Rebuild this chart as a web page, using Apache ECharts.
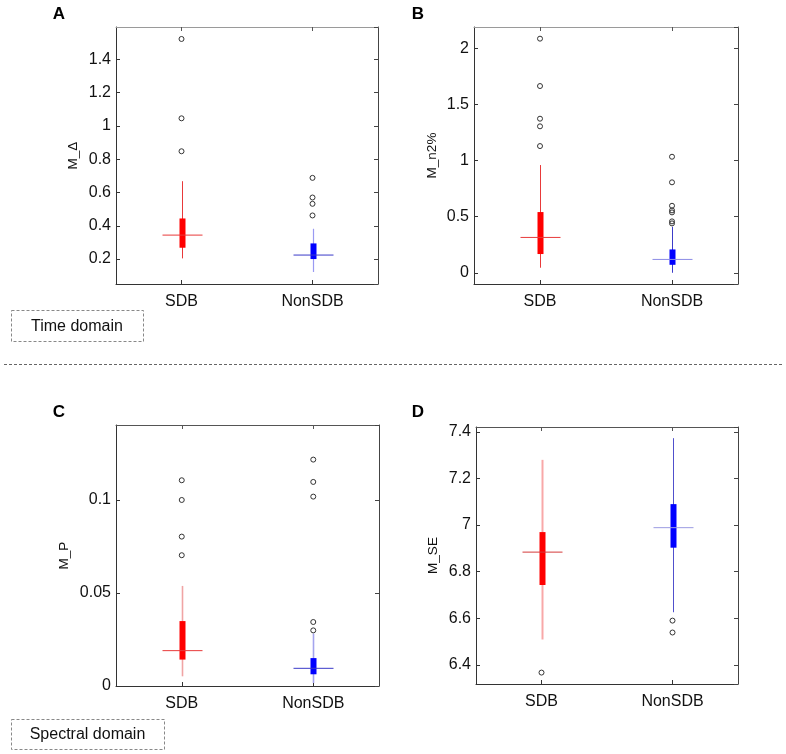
<!DOCTYPE html>
<html>
<head>
<meta charset="utf-8">
<script src="https://cdn.jsdelivr.net/npm/echarts@6/dist/echarts.min.js"></script>
<style>
html,body{margin:0;padding:0;background:#fff;}
#chart{width:786px;height:754px;}
</style>
</head>
<body>
<div id="chart"></div>
<script>
// ---------- data ----------
const categories = ['SDB', 'NonSDB'];

// box stats per group: [lowerWhisker, Q1, median, Q3, upperWhisker]
const boxA = [[0.204, 0.268, 0.344, 0.444, 0.668], [0.122, 0.200, 0.224, 0.294, 0.382]];
const outliersA = [[1.523, 1.046, 0.848], [0.688, 0.570, 0.532, 0.462]];

const boxB = [[0.045, 0.167, 0.315, 0.541, 0.960], [0.000, 0.071, 0.119, 0.208, 0.410]];
const outliersB = [[2.086, 1.664, 1.373, 1.305, 1.129], [1.034, 0.806, 0.597, 0.556, 0.538, 0.458, 0.440]];

const boxC = [[0.0052, 0.0142, 0.0190, 0.0349, 0.0538], [0.0016, 0.0063, 0.0095, 0.0150, 0.0282]];
const outliersC = [[0.1106, 0.1000, 0.0803, 0.0703], [0.1217, 0.1097, 0.1018, 0.0344, 0.0299]];

const boxD = [[6.509, 6.743, 6.884, 6.970, 7.280], [6.626, 6.903, 6.989, 7.090, 7.373]];
const outliersD = [[6.367], [6.590, 6.539]];

// axis ranges [min, max]
const rangeA = [0.05, 1.595];
const rangeB = [-0.1, 2.19];
const rangeC = [0, 0.1403];
const rangeD = [6.318, 7.421];

const yNames = ['M_\u0394', 'M_n2%', 'M_P', 'M_SE'];
const panelLetters = ['A', 'B', 'C', 'D'];
const domainLabels = ['Time domain', 'Spectral domain'];

// ---------- styles ----------
const FONT = '"Liberation Sans", Arial, Helvetica, sans-serif';
const panels = [
  { box: boxA, out: outliersA, range: rangeA, split: 7, grid: {left: 116, top: 27, width: 262, height: 257}, nameGap: 36, topColor: '#9a9a9a',
    whisker: ['#e8393a', '#9a9af2'], median: ['#e83a3a', '#3a3ac8'], ww: [1, 1.2] },
  { box: boxB, out: outliersB, range: rangeB, split: 5, grid: {left: 474, top: 27, width: 264, height: 257}, nameGap: 35, topColor: '#9a9a9a',
    whisker: ['#e83a3a', '#3c3cc8'], median: ['#e83a3a', '#8c8ce6'], ww: [1, 1] },
  { box: boxC, out: outliersC, range: rangeC, split: 3, grid: {left: 116, top: 425, width: 263, height: 261}, nameGap: 45, topColor: '#555',
    whisker: ['#f0a4a4', '#a4a4ee'], median: ['#e83a3a', '#3a3ac8'], ww: [1.6, 1.6] },
  { box: boxD, out: outliersD, range: rangeD, split: 5, grid: {left: 476, top: 427, width: 262, height: 257}, nameGap: 36, topColor: '#555',
    whisker: ['#f8a8a8', '#5050cc'], median: ['#d43a3a', '#9c9ce2'], ww: [2, 1] }
];
const boxFill = ['#ff0000', '#0000ff'];

const chart = echarts.init(document.getElementById('chart'), null, {renderer: 'canvas'});

const grids = [], xAxes = [], yAxes = [], series = [];
panels.forEach((p, i) => {
  grids.push(Object.assign({containLabel: false}, p.grid));
  // bottom category axis
  xAxes.push({
    type: 'category', gridIndex: i, data: categories, position: 'bottom',
    axisLine: {show: true, onZero: false, lineStyle: {color: '#333', width: 1}},
    axisTick: {show: true, inside: true, alignWithLabel: true, length: 4, lineStyle: {color: '#333'}},
    axisLabel: {show: true, color: '#111', fontSize: 16, fontFamily: FONT, margin: 10},
    splitLine: {show: false}
  });
  // top mirror axis
  xAxes.push({
    type: 'category', gridIndex: i, data: categories, position: 'top',
    axisLine: {show: true, onZero: false, lineStyle: {color: p.topColor, width: 1}},
    axisTick: {show: true, inside: true, alignWithLabel: true, length: 4, lineStyle: {color: '#555'}},
    axisLabel: {show: false}, splitLine: {show: false}
  });
  yAxes.push({
    type: 'value', gridIndex: i, position: 'left', min: p.range[0], max: p.range[1], splitNumber: p.split,
    name: yNames[i], nameLocation: 'middle', nameRotate: 90, nameGap: p.nameGap,
    nameTextStyle: {color: '#111', fontSize: 13.5, fontFamily: FONT},
    axisLine: {show: true, onZero: false, lineStyle: {color: '#333', width: 1}},
    axisTick: {show: true, inside: true, length: 4, lineStyle: {color: '#333'}},
    axisLabel: {show: true, color: '#111', fontSize: 16, fontFamily: FONT, margin: 5,
      showMinLabel: i === 2 ? true : false, showMaxLabel: false},
    splitLine: {show: false}
  });
  yAxes.push({
    type: 'value', gridIndex: i, position: 'right', min: p.range[0], max: p.range[1], splitNumber: p.split,
    axisLine: {show: true, onZero: false, lineStyle: {color: '#444', width: 1}},
    axisTick: {show: true, inside: true, length: 4, lineStyle: {color: '#444'}},
    axisLabel: {show: false}, splitLine: {show: false}
  });

  const boxData = p.box.map((b, k) => [k].concat(b));
  series.push({
    type: 'custom', xAxisIndex: 2 * i, yAxisIndex: 2 * i, silent: true,
    data: boxData,
    encode: {x: 0, y: [1, 2, 3, 4, 5]},
    renderItem: function (params, api) {
      const k = api.value(0);
      const lo = api.coord([k, api.value(1)]);
      const q1 = api.coord([k, api.value(2)]);
      const md = api.coord([k, api.value(3)]);
      const q3 = api.coord([k, api.value(4)]);
      const hi = api.coord([k, api.value(5)]);
      const cx = Math.round(lo[0]) + 0.5;
      const idx = params.dataIndex;
      return {
        type: 'group',
        children: [
          {type: 'line', shape: {x1: cx, y1: lo[1], x2: cx, y2: hi[1]},
            style: {stroke: p.whisker[idx], lineWidth: p.ww[idx]}},
          {type: 'rect', shape: {x: cx - 3, y: q3[1], width: 6, height: q1[1] - q3[1]},
            style: {fill: boxFill[idx]}},
          {type: 'line', shape: {x1: cx - 20, y1: md[1], x2: cx + 20, y2: md[1]},
            style: {stroke: p.median[idx], lineWidth: 1}}
        ]
      };
    },
    z: 3
  });
  const outData = [];
  p.out.forEach((arr, k) => arr.forEach(v => outData.push([categories[k], v])));
  series.push({
    type: 'scatter', xAxisIndex: 2 * i, yAxisIndex: 2 * i, silent: true,
    data: outData, symbol: 'circle', symbolSize: 5,
    itemStyle: {color: 'rgba(255,255,255,0)', borderColor: '#333', borderWidth: 1, opacity: 1},
    z: 4
  });
});

const letterPos = [[59, 14], [418, 14], [59, 412], [418, 412]];
const graphic = [];
panelLetters.forEach((t, i) => {
  graphic.push({
    type: 'text', x: letterPos[i][0], y: letterPos[i][1],
    style: {text: t, fill: '#000', font: 'bold 17px ' + FONT, align: 'center', verticalAlign: 'middle'}
  });
});
// domain boxes
const domainBoxes = [{x: 11, y: 310, w: 132, h: 31}, {x: 11, y: 719, w: 153, h: 30}];
domainLabels.forEach((t, i) => {
  const b = domainBoxes[i];
  graphic.push({
    type: 'rect', shape: {x: b.x + 0.5, y: b.y + 0.5, width: b.w, height: b.h},
    style: {fill: null, stroke: '#888', lineWidth: 1, lineDash: [3, 2]}
  });
  graphic.push({
    type: 'text', x: b.x + b.w / 2, y: b.y + b.h / 2 + 1,
    style: {text: t, fill: '#111', font: '16px ' + FONT, align: 'center', verticalAlign: 'middle'}
  });
});
// separator dashed line
graphic.push({
  type: 'line', shape: {x1: 4, y1: 364.5, x2: 782, y2: 364.5},
  style: {stroke: '#666', lineWidth: 1, lineDash: [3, 2]}
});

chart.setOption({
  animation: false,
  backgroundColor: '#fff',
  grid: grids,
  xAxis: xAxes,
  yAxis: yAxes,
  series: series,
  graphic: graphic
});
</script>
</body>
</html>
